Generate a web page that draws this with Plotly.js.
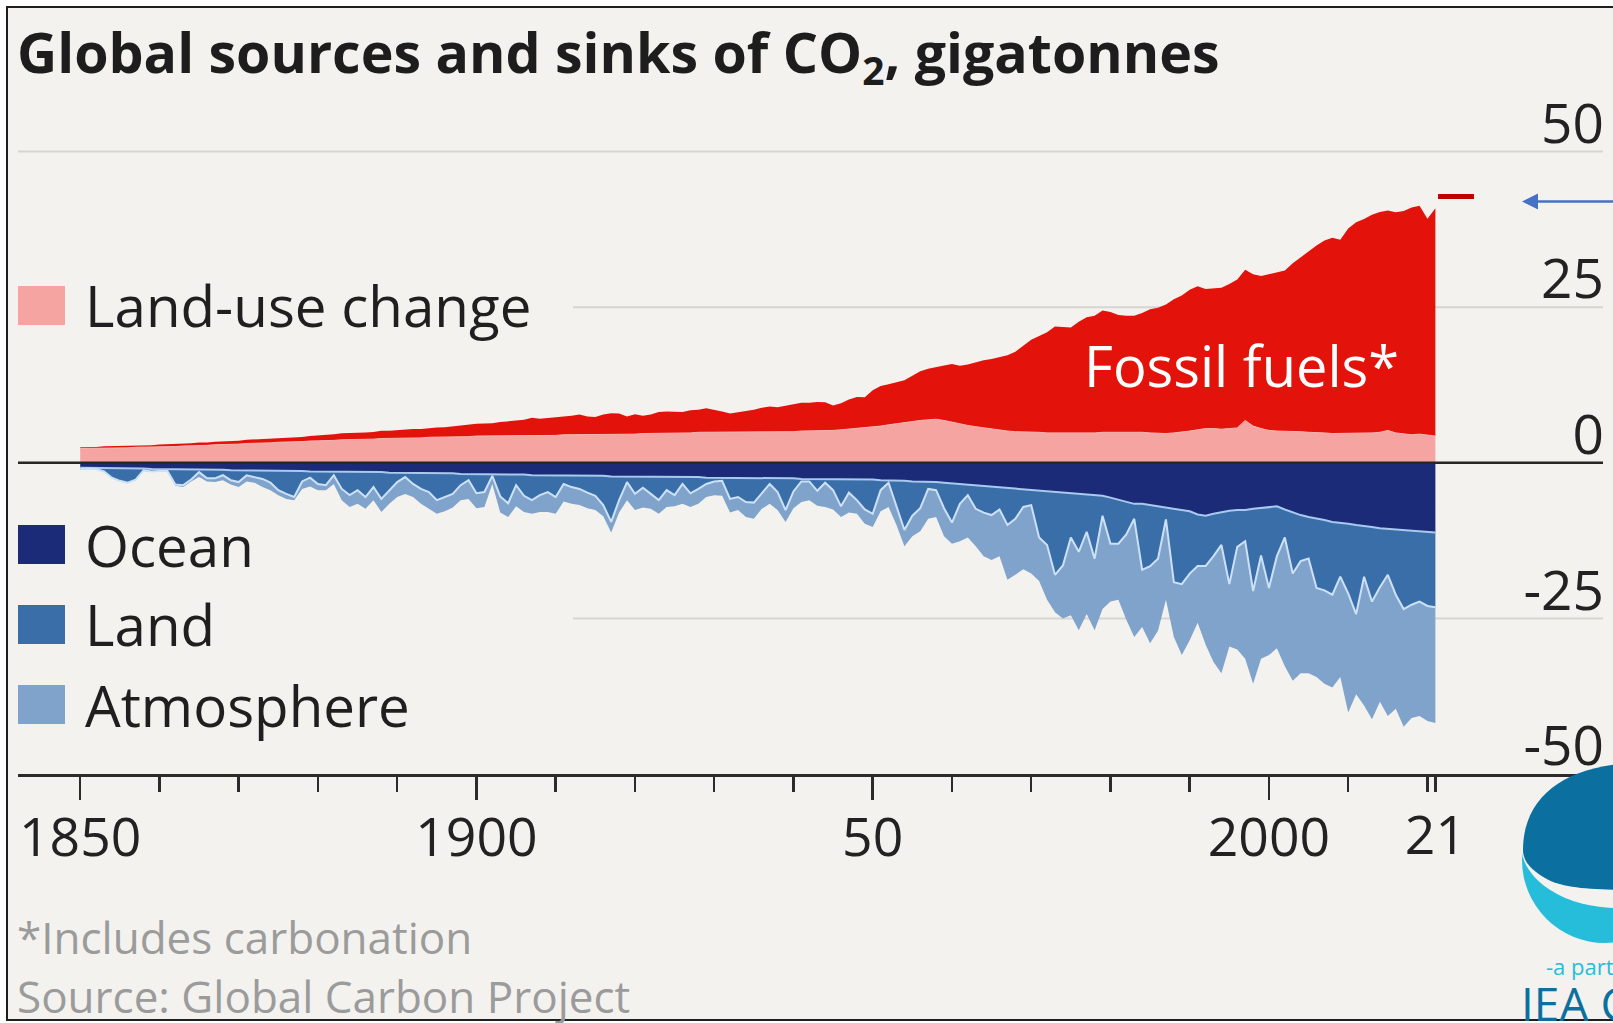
<!DOCTYPE html>
<html>
<head>
<meta charset="utf-8">
<script src="https://cdn.plot.ly/plotly-3.0.1.min.js"></script>
<style>html,body{margin:0;padding:0;background:#fff;}#chart{width:1613px;height:1023px;}</style>
</head>
<body>
<div id="chart"></div>
<script>
// ---------- data (GtCO2 per year), 1850-2021 ----------
const startYear = 1850;
const years = [];
for (let i = 0; i < 172; i++) years.push(startYear + i);

const fossil = [
 0.20,0.20,0.22,0.24,0.27,0.27,0.29,0.29,0.29,0.31,
 0.33,0.36,0.36,0.38,0.42,0.45,0.45,0.49,0.51,0.53,
 0.55,0.60,0.66,0.71,0.66,0.71,0.73,0.75,0.75,0.82,
 0.88,0.93,0.99,1.06,1.06,1.06,1.08,1.14,1.25,1.25,
 1.34,1.43,1.43,1.41,1.47,1.56,1.60,1.67,1.76,1.91,
 1.96,2.02,2.05,2.24,2.24,2.37,2.51,2.82,2.68,2.80,
 2.86,2.93,3.07,3.27,2.93,2.86,3.15,3.35,3.30,2.82,
 3.21,2.86,3.06,3.44,3.44,3.44,3.35,3.66,3.63,3.87,
 3.66,3.35,3.01,3.18,3.46,3.63,3.94,4.14,3.93,4.17,
 4.45,4.55,4.55,4.66,4.62,4.00,4.28,4.77,5.05,4.91,
 5.95,6.44,6.52,6.70,6.86,7.38,7.90,8.21,8.42,8.83,
 9.39,9.40,9.78,10.34,10.87,11.28,11.77,12.17,12.84,13.75,
 14.87,15.48,16.17,17.08,17.13,17.02,17.94,18.57,18.84,19.58,
 19.32,18.76,18.63,18.61,19.17,19.85,20.20,20.72,21.48,21.99,
 22.68,23.08,22.42,22.46,22.71,23.21,23.85,24.22,24.39,24.51,
 25.12,25.56,25.80,27.06,28.04,29.04,30.00,30.91,31.45,31.12,
 32.95,33.96,34.45,35.05,35.38,35.32,35.45,35.85,36.53,36.70,
 34.81,36.59
];

const landUse = [
 2.3,2.3,2.3,2.4,2.4,2.4,2.4,2.5,2.5,2.5,
 2.6,2.6,2.6,2.7,2.7,2.8,2.8,2.9,2.9,3.0,
 3.0,3.1,3.1,3.2,3.2,3.3,3.3,3.4,3.4,3.5,
 3.5,3.6,3.6,3.7,3.7,3.7,3.8,3.8,3.9,3.9,
 3.9,4.0,4.0,4.0,4.1,4.1,4.1,4.2,4.2,4.2,
 4.3,4.3,4.3,4.3,4.4,4.4,4.4,4.4,4.4,4.4,
 4.4,4.5,4.5,4.5,4.5,4.5,4.6,4.6,4.6,4.6,
 4.6,4.7,4.7,4.7,4.8,4.8,4.8,4.8,4.9,4.9,
 4.9,4.9,4.9,4.9,4.9,4.9,4.9,4.9,5.0,5.0,
 5.0,5.1,5.1,5.1,5.1,5.2,5.3,5.4,5.5,5.6,
 5.7,5.9,6.1,6.3,6.4,6.6,6.8,6.9,7.0,6.8,
 6.5,6.2,6.0,5.8,5.6,5.4,5.2,5.1,5.0,5.0,
 4.9,4.9,4.8,4.8,4.7,4.7,4.7,4.8,4.8,4.9,
 4.9,5.0,5.0,5.0,4.9,4.8,4.7,4.7,4.8,4.9,
 5.1,5.3,5.5,5.5,5.4,5.5,5.6,6.8,5.9,5.5,
 5.2,5.1,5.1,5.0,5.0,4.9,4.9,4.8,4.7,4.7,
 4.7,4.7,4.7,4.8,4.9,5.2,4.8,4.6,4.5,4.6,
 4.4,4.3
];

const ocean = [
 -0.8,-0.8,-0.8,-0.8,-0.9,-0.9,-0.9,-0.9,-0.9,-1.0,
 -1.0,-1.0,-1.0,-1.0,-1.1,-1.1,-1.1,-1.1,-1.1,-1.2,
 -1.2,-1.2,-1.2,-1.2,-1.3,-1.3,-1.3,-1.3,-1.3,-1.4,
 -1.4,-1.4,-1.4,-1.4,-1.5,-1.5,-1.5,-1.5,-1.5,-1.6,
 -1.6,-1.6,-1.6,-1.6,-1.7,-1.7,-1.7,-1.7,-1.8,-1.8,
 -1.8,-1.8,-1.8,-1.9,-1.9,-1.9,-1.9,-2.0,-2.0,-2.0,
 -2.0,-2.0,-2.1,-2.1,-2.1,-2.1,-2.1,-2.2,-2.2,-2.2,
 -2.2,-2.2,-2.2,-2.3,-2.3,-2.3,-2.3,-2.3,-2.3,-2.4,
 -2.4,-2.4,-2.4,-2.4,-2.4,-2.4,-2.5,-2.5,-2.5,-2.5,
 -2.5,-2.6,-2.6,-2.6,-2.6,-2.6,-2.6,-2.6,-2.7,-2.7,
 -2.7,-2.8,-2.8,-2.9,-2.9,-3.0,-3.0,-3.1,-3.1,-3.2,
 -3.3,-3.4,-3.5,-3.6,-3.7,-3.8,-3.9,-4.0,-4.1,-4.2,
 -4.3,-4.4,-4.5,-4.6,-4.8,-4.9,-5.0,-5.1,-5.2,-5.3,
 -5.6,-5.9,-6.2,-6.6,-6.6,-6.8,-7.0,-7.1,-7.3,-7.5,
 -7.8,-8.3,-8.5,-8.2,-7.9,-7.7,-7.6,-7.6,-7.4,-7.3,
 -7.2,-7.0,-7.5,-8.0,-8.4,-8.7,-8.9,-9.2,-9.5,-9.6,
 -9.8,-10.0,-10.1,-10.3,-10.5,-10.6,-10.8,-10.9,-11.0,-11.1,
 -11.2,-11.2
];

const land = [
 -0.2,-0.1,-0.2,-0.6,-1.5,-2.0,-2.3,-1.8,-0.3,-0.4,
 -0.3,-0.3,-2.5,-2.6,-1.6,-0.4,-1.4,-1.4,-0.9,-1.6,
 -1.9,-0.8,-1.1,-1.4,-1.9,-3.1,-3.7,-4.2,-1.7,-1.0,
 -2.0,-2.2,-0.6,-2.8,-3.7,-2.9,-4.0,-2.4,-4.3,-2.8,
 -1.5,-0.7,-1.8,-2.6,-3.0,-4.3,-3.8,-3.3,-1.8,-1.0,
 -3.1,-2.9,-0.3,-3.5,-4.6,-1.7,-3.4,-4.0,-3.2,-2.7,
 -3.5,-1.4,-1.8,-2.1,-2.7,-3.2,-4.7,-7.3,-3.8,-0.9,
 -2.8,-1.8,-2.8,-3.7,-2.1,-2.9,-1.1,-2.6,-1.9,-1.0,
 -0.6,-0.5,-3.4,-3.1,-3.9,-4.0,-2.4,-0.9,-2.2,-5.1,
 -2.1,-0.4,-0.4,-1.9,-0.6,-1.8,-4.4,-2.2,-3.3,-4.8,
 -5.5,-1.6,-0.4,-4.2,-7.9,-5.5,-4.3,-1.1,-1.3,-4.1,
 -6.3,-3.2,-1.7,-3.8,-4.3,-4.6,-3.6,-6.0,-4.9,-2.9,
 -2.5,-7.6,-8.7,-13.4,-11.7,-7.1,-9.3,-6.0,-10.2,-3.2,
 -7.4,-7.1,-5.3,-2.4,-10.6,-9.8,-8.4,-2.0,-11.9,-12.0,
 -10.0,-8.3,-8.1,-6.8,-5.3,-11.8,-5.9,-5.0,-13.2,-7.6,
 -12.9,-8.0,-4.5,-9.8,-7.4,-6.7,-11.2,-11.3,-11.7,-8.7,
 -11.2,-14.3,-8.2,-12.0,-9.5,-7.4,-10.4,-12.6,-11.8,-11.2,
 -11.8,-12.0
];

const atmosphere = [
 -0.1,-0.1,-0.1,-0.1,-0.1,-0.1,-0.1,-0.1,-0.1,-0.1,
 -0.1,-0.1,-0.2,-0.3,-0.3,-0.8,-0.5,-0.6,-0.8,-0.7,
 -0.8,-1.0,-0.9,-1.3,-1.2,-0.8,-0.8,-0.5,-1.2,-1.4,
 -1.0,-0.8,-1.4,-1.8,-1.9,-2.2,-1.9,-2.1,-2.1,-2.2,
 -2.4,-2.7,-2.1,-2.4,-2.7,-2.2,-2.3,-2.2,-2.4,-3.0,
 -2.4,-2.4,-1.3,-2.6,-2.2,-3.4,-2.6,-2.2,-2.7,-3.2,
 -2.7,-2.8,-2.7,-2.6,-2.5,-2.3,-1.8,-1.7,-2.0,-2.9,
 -2.6,-3.2,-2.4,-2.2,-2.7,-1.8,-3.2,-2.2,-2.4,-2.1,
 -2.2,-2.4,-2.2,-2.1,-2.4,-2.6,-2.5,-3.2,-2.9,-1.9,
 -2.7,-3.3,-3.0,-2.4,-3.9,-3.1,-1.7,-3.2,-2.2,-2.3,
 -2.1,-3.4,-3.9,-2.9,-2.6,-3.3,-3.7,-4.8,-4.3,-4.5,
 -3.4,-6.0,-6.8,-6.0,-7.0,-7.2,-7.5,-8.8,-9.0,-10.0,
 -11.0,-7.0,-8.8,-6.0,-8.5,-12.5,-12.6,-13.2,-11.5,-15.0,
 -9.3,-9.0,-13.7,-19.0,-9.2,-12.4,-11.6,-12.9,-8.8,-11.4,
 -10.7,-9.1,-12.6,-17.0,-20.6,-10.0,-16.5,-18.9,-14.9,-16.6,
 -10.8,-14.8,-20.7,-17.2,-18.0,-18.4,-14.3,-15.0,-14.9,-16.1,
 -19.1,-12.9,-20.7,-18.9,-18.4,-22.7,-18.3,-18.9,-18.2,-18.4,
 -18.5,-18.6
];

// ---------- ticks / labels ----------
const majorTickYears = [1850, 1900, 1950, 2000];
const majorTickLabels = ['1850', '1900', '50', '2000'];
const minorTickYears = [1860,1870,1880,1890,1910,1920,1930,1940,1960,1970,1980,1990,2010,2020,2021];
const lastTickYear = [2021];
const lastTickLabel = ['21'];
const yTickVals = [-50, -25, 0, 25, 50];
const yTickLabels = ['-50', '-25', '0', '25', '50'];
const gridFull = [50];
const gridPartial = [25, -25];

const legendTop = ['Land-use change'];
const legendBottom = ['Ocean', 'Land', 'Atmosphere'];

// ---------- colours ----------
const C = {
  bg: '#f3f2ee', fossil: '#e3120b', luc: '#f6a4a1', ocean: '#1c2b78',
  land: '#3a6ea9', atmos: '#80a3cb', text: '#1f1f1f', grey: '#9b9b9b',
  logoDark: '#0b70a0', logoLight: '#26bddb'
};

// ---------- geometry helpers (page pixels -> paper) ----------
const PL = 18, PR = 1603, PT = 108, PB = 774;
const PW = PR - PL, PH = PB - PT;
const px = x => (x - PL) / PW;
const py = y => (PB - y) / PH;
const pt = (x, y) => `${px(x)},${py(y)}`;
const xRange = [1842.15, 2042.15];

const traces = [
  {type:'scatter', mode:'lines', x:years, y:landUse, stackgroup:'src', name:'Land-use change',
   line:{width:1, color:'#f8b6b2'}, fillcolor:C.luc, hoverinfo:'skip'},
  {type:'scatter', mode:'lines', x:years, y:fossil, stackgroup:'src', name:'Fossil fuels*',
   line:{width:0, color:C.fossil}, fillcolor:C.fossil, hoverinfo:'skip'},
  {type:'scatter', mode:'lines', x:years, y:ocean, stackgroup:'sink', name:'Ocean',
   line:{width:2, color:'#a9c9ee'}, fillcolor:C.ocean, hoverinfo:'skip'},
  {type:'scatter', mode:'lines', x:years, y:land, stackgroup:'sink', name:'Land',
   line:{width:2, color:'#cde1f6'}, fillcolor:C.land, hoverinfo:'skip'},
  {type:'scatter', mode:'lines', x:years, y:atmosphere, stackgroup:'sink', name:'Atmosphere',
   line:{width:0, color:C.atmos}, fillcolor:C.atmos, hoverinfo:'skip'},
  {type:'scatter', mode:'none', x:lastTickYear, y:[0], xaxis:'x2', yaxis:'y', showlegend:false, hoverinfo:'skip'}
];

const shapes = [];
// frame + background
shapes.push({type:'rect', xref:'paper', yref:'paper', x0:px(7), x1:px(1660), y0:py(7), y1:py(1020),
  fillcolor:C.bg, line:{color:'#1e1e1e', width:2}, layer:'below'});
// gridlines
gridFull.forEach(v => shapes.push({type:'line', xref:'paper', yref:'y', x0:0, x1:1, y0:v, y1:v,
  line:{color:'#d6d5d1', width:2}, layer:'below'}));
gridPartial.forEach(v => shapes.push({type:'line', xref:'paper', yref:'y', x0:px(573), x1:1, y0:v, y1:v,
  line:{color:'#d6d5d1', width:2}, layer:'below'}));
// zero line
shapes.push({type:'line', xref:'paper', yref:'y', x0:0, x1:1, y0:0, y1:0,
  line:{color:'#262626', width:2.5}, layer:'above'});
// legend swatches
const sw = [[286, 325, C.luc], [525, 564, C.ocean], [605, 644, C.land], [685, 724, C.atmos]];
sw.forEach(s => shapes.push({type:'rect', xref:'paper', yref:'paper', x0:px(18), x1:px(65),
  y0:py(s[1]), y1:py(s[0]), fillcolor:s[2], line:{width:0}}));
// red dash & blue arrow
shapes.push({type:'rect', xref:'paper', yref:'paper', x0:px(1438), x1:px(1474), y0:py(199), y1:py(194),
  fillcolor:'#c00000', line:{width:0}});
shapes.push({type:'line', xref:'paper', yref:'paper', x0:px(1534), x1:px(1640), y0:py(201.5), y1:py(201.5),
  line:{color:'#4472c4', width:2.5}});
shapes.push({type:'path', xref:'paper', yref:'paper',
  path:`M ${pt(1522,201.5)} L ${pt(1538,193.5)} L ${pt(1538,209.5)} Z`,
  fillcolor:'#4472c4', line:{width:0}});
// logo (partly cut by the page edge)
shapes.push({type:'circle', xref:'paper', yref:'paper', x0:px(1522), x1:px(1688), y0:py(943), y1:py(777),
  fillcolor:C.logoLight, line:{width:0}});
shapes.push({type:'circle', xref:'paper', yref:'paper', x0:px(1521), x1:px(1715), y0:py(908), y1:py(782),
  fillcolor:C.bg, line:{width:0}});
shapes.push({type:'path', xref:'paper', yref:'paper',
  path:`M ${pt(1523,850)} C ${pt(1523,800)} ${pt(1560,770)} ${pt(1620,764)} L ${pt(1660,764)} L ${pt(1660,890)} ` +
       `C ${pt(1600,890)} ${pt(1565,890)} ${pt(1545,878)} C ${pt(1532,870)} ${pt(1523,862)} ${pt(1523,850)} Z`,
  fillcolor:C.logoDark, line:{width:0}});

const ann = [];
ann.push({xref:'x', yref:'y', x:2016.7, y:15.7, xanchor:'right', yanchor:'middle', showarrow:false,
  text:'Fossil fuels*', font:{size:56, color:'#ffffff'}});
const legendY = [305, 545, 624, 705];
legendTop.concat(legendBottom).forEach((t, i) => ann.push({xref:'paper', yref:'paper', x:px(83), y:py(legendY[i]),
  xanchor:'left', yanchor:'middle', showarrow:false, text:t, font:{size:56.5, color:C.text}}));
ann.push({xref:'paper', yref:'paper', x:px(15), y:py(937), xanchor:'left', yanchor:'middle', showarrow:false,
  text:'*Includes carbonation', font:{size:44, color:C.grey}});
ann.push({xref:'paper', yref:'paper', x:px(15), y:py(996), xanchor:'left', yanchor:'middle', showarrow:false,
  text:'Source: Global Carbon Project', font:{size:44, color:C.grey}});
ann.push({xref:'paper', yref:'paper', x:px(1544), y:py(966), xanchor:'left', yanchor:'middle', showarrow:false,
  text:'-a part of', font:{size:22, color:C.logoLight}});
ann.push({xref:'paper', yref:'paper', x:px(1519), y:py(1003), xanchor:'left', yanchor:'middle', showarrow:false,
  text:'IEA GHG', font:{size:46, color:C.logoDark}});

const xTickFont = {size:53.5, color:'#222'};
const yTickFont = {size:55, color:'#222'};
const layout = {
  width:1613, height:1023,
  margin:{l:PL, r:1613 - PR, t:PT, b:1023 - PB, pad:0},
  paper_bgcolor:'#ffffff', plot_bgcolor:'rgba(0,0,0,0)',
  font:{family:'"Open Sans", sans-serif', color:C.text},
  showlegend:false,
  title:{text:'Global sources and sinks of CO<sub>2</sub>, gigatonnes', xref:'container', yref:'container',
    x:17/1613, xanchor:'left', y:1 - 54/1023, yanchor:'middle',
    font:{size:55.5, weight:700, color:'#1d1d1d'}},
  xaxis:{range:xRange, tickmode:'array', tickvals:majorTickYears, ticktext:majorTickLabels,
    ticks:'outside', ticklen:23, tickwidth:2.5, tickcolor:'#2b2b2b', ticklabelstandoff:-8,
    showline:true, linecolor:'#2b2b2b', linewidth:2.5, showgrid:false, zeroline:false,
    tickfont:xTickFont, fixedrange:true,
    minor:{tickmode:'array', tickvals:minorTickYears, ticks:'outside', ticklen:15, tickwidth:2.5,
      tickcolor:'#2b2b2b', showgrid:false}},
  xaxis2:{overlaying:'x', anchor:'y', side:'bottom', range:xRange, tickmode:'array',
    tickvals:lastTickYear, ticktext:lastTickLabel, ticks:'outside', ticklen:23, ticklabelstandoff:-8,
    tickcolor:'rgba(0,0,0,0)', showline:false, showgrid:false, zeroline:false, tickfont:xTickFont, fixedrange:true},
  yaxis:{range:[-50, 57], side:'right', tickmode:'array', tickvals:yTickVals, ticktext:yTickLabels,
    ticklabelposition:'inside', ticklabeloverflow:'allow', ticklabelshift:-28, ticklabelstandoff:-4, ticks:'',
    showgrid:false, zeroline:false, showline:false, tickfont:yTickFont, fixedrange:true},
  shapes:shapes,
  annotations:ann
};

Plotly.newPlot('chart', traces, layout, {displayModeBar:false, staticPlot:true});
</script>
</body>
</html>
